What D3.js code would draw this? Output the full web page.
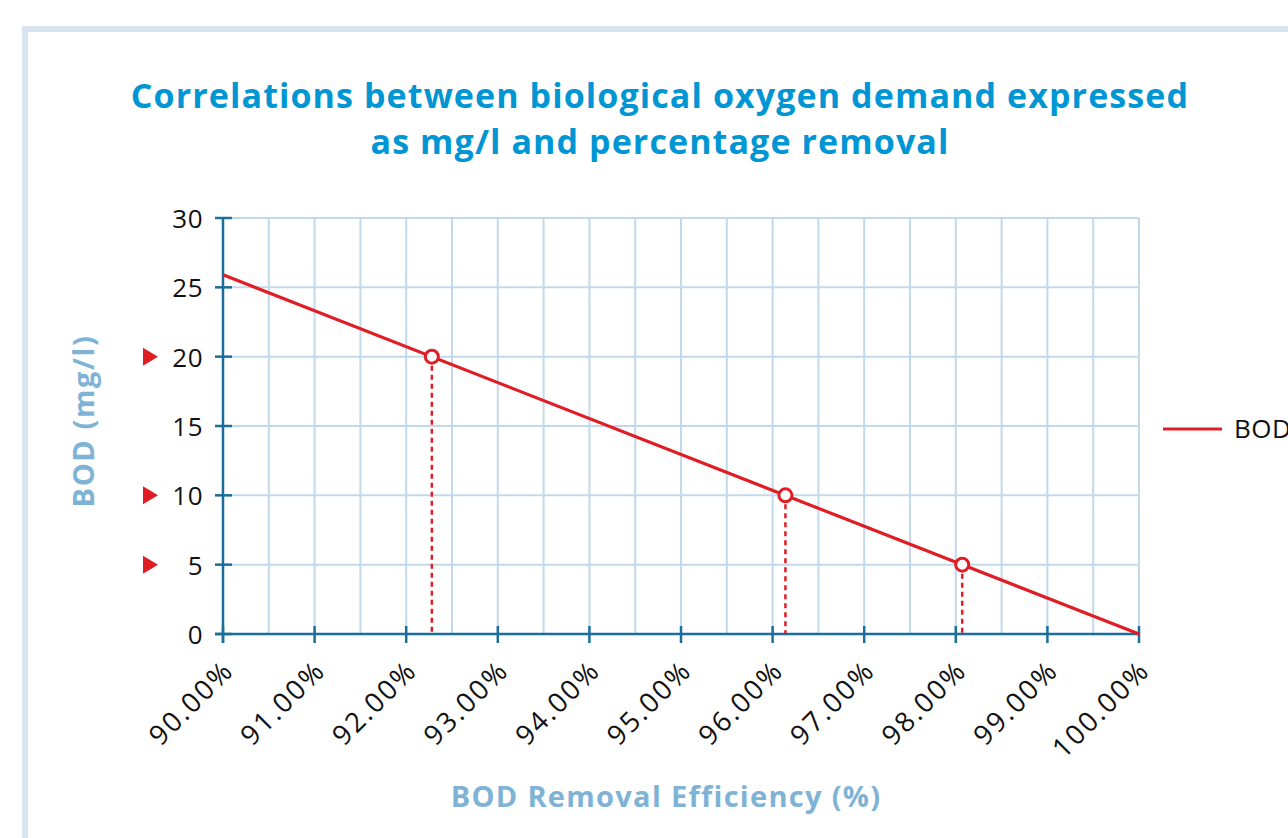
<!DOCTYPE html>
<html><head><meta charset="utf-8">
<script src="https://cdn.jsdelivr.net/npm/d3@7"></script>
<style>
body{margin:0;background:#fff;overflow:hidden;}
svg{display:block;}
</style></head>
<body>
<svg id="c" width="1288" height="838"></svg>
<script>
// ---- data ----
const titleLines = ["Correlations between biological oxygen demand expressed", "as mg/l and percentage removal"];
const xLabel = "BOD Removal Efficiency (%)";
const yLabel = "BOD (mg/l)";
const seriesName = "BOD";
const efficiency = [90, 100];          // % removal (line ends)
const bodValues = [25.9, 0];           // mg/l
const markEff = [92.28, 96.14, 98.07]; // highlighted points
const markBod = [20, 10, 5];
const xTicks = [90, 91, 92, 93, 94, 95, 96, 97, 98, 99, 100];
const xGrid = [90.5, 91, 91.5, 92, 92.5, 93, 93.5, 94, 94.5, 95, 95.5, 96, 96.5, 97, 97.5, 98, 98.5, 99, 99.5, 100];
const yTicks = [0, 5, 10, 15, 20, 25, 30];

const svg = d3.select("#c");
const red = "#e01d25", axisCol = "#1a6e9b", gridCol = "#c2d9eb";
const tickFont = "'Open Sans', sans-serif";
const boldFont = "'Open Sans', sans-serif";

// frame
svg.append("rect").attr("x", 25).attr("y", 29).attr("width", 1300).attr("height", 900)
  .attr("fill", "none").attr("stroke", "#d8e5f0").attr("stroke-width", 6);

// title
svg.append("g").selectAll("text").data(titleLines).join("text")
  .attr("x", 660).attr("y", (d, i) => 108 + i * 46)
  .attr("text-anchor", "middle").attr("fill", "#0096d4")
  .attr("font-family", boldFont).attr("font-weight", 700).attr("font-size", 34)
  .attr("letter-spacing", 1.1)
  .text(d => d);

const x = d3.scaleLinear().domain([90, 100]).range([223, 1139]);
const y = d3.scaleLinear().domain([0, 30]).range([634, 218]);

// grid
const g = svg.append("g");
g.selectAll(".vg").data(xGrid).join("line")
  .attr("x1", d => x(d)).attr("x2", d => x(d)).attr("y1", y(30)).attr("y2", y(0))
  .attr("stroke", gridCol).attr("stroke-width", 2);
g.selectAll(".hg").data(yTicks.filter(d => d > 0)).join("line")
  .attr("x1", x(90)).attr("x2", x(100)).attr("y1", d => y(d)).attr("y2", d => y(d))
  .attr("stroke", gridCol).attr("stroke-width", 2);

// axes
const yAxis = svg.append("g").attr("transform", `translate(${x(90)},0)`)
  .call(d3.axisLeft(y).tickValues(yTicks).tickSize(0).tickPadding(20));
yAxis.select(".domain").remove();
yAxis.selectAll("text").attr("font-family", tickFont).attr("font-size", 26)
  .attr("fill", "#111").attr("letter-spacing", 0.5).attr("dy", "0.36em");

const xAxis = svg.append("g").attr("transform", `translate(0,${y(0)})`)
  .call(d3.axisBottom(x).tickValues(xTicks).tickSize(0).tickFormat(d => d.toFixed(2) + "%"));
xAxis.select(".domain").remove();
xAxis.selectAll("text").attr("font-family", tickFont).attr("font-size", 27.5)
  .attr("fill", "#111").attr("letter-spacing", 2.2)
  .attr("text-anchor", "end").attr("dy", 0).attr("y", 0)
  .attr("transform", "translate(12,38) rotate(-45)");

// axis lines & crossing ticks
svg.append("line").attr("x1", x(90)).attr("x2", x(90)).attr("y1", y(30)).attr("y2", y(0) + 9)
  .attr("stroke", axisCol).attr("stroke-width", 2.5);
svg.append("line").attr("x1", x(90) - 8).attr("x2", x(100)).attr("y1", y(0)).attr("y2", y(0))
  .attr("stroke", axisCol).attr("stroke-width", 2.5);
svg.append("g").selectAll("line").data(yTicks).join("line")
  .attr("x1", x(90) - 8).attr("x2", x(90) + 9).attr("y1", d => y(d)).attr("y2", d => y(d))
  .attr("stroke", axisCol).attr("stroke-width", 2.5);
svg.append("g").selectAll("line").data(xTicks).join("line")
  .attr("x1", d => x(d)).attr("x2", d => x(d)).attr("y1", y(0) - 8).attr("y2", y(0) + 9)
  .attr("stroke", axisCol).attr("stroke-width", 2.5);

// dashed drop lines
const marks = markEff.map((e, i) => ({e, b: markBod[i]}));
svg.append("g").selectAll("line").data(marks).join("line")
  .attr("x1", d => x(d.e)).attr("x2", d => x(d.e)).attr("y1", d => y(d.b)).attr("y2", y(0))
  .attr("stroke", red).attr("stroke-width", 2.5).attr("stroke-dasharray", "5,4");

// main line
const lineData = efficiency.map((e, i) => ({e, b: bodValues[i]}));
svg.append("path").datum(lineData)
  .attr("d", d3.line().x(d => x(d.e)).y(d => y(d.b)))
  .attr("fill", "none").attr("stroke", red).attr("stroke-width", 3.2);

// markers
svg.append("g").selectAll("circle").data(marks).join("circle")
  .attr("cx", d => x(d.e)).attr("cy", d => y(d.b)).attr("r", 6.5)
  .attr("fill", "#fff").attr("stroke", red).attr("stroke-width", 3);

// red triangles on y axis
svg.append("g").selectAll("path").data(markBod).join("path")
  .attr("d", d => `M143,${y(d) - 9} L158,${y(d)} L143,${y(d) + 9} Z`)
  .attr("fill", red);

// axis titles
svg.append("text").attr("transform", `translate(94,421) rotate(-90)`)
  .attr("text-anchor", "middle").attr("fill", "#7fb3d6")
  .attr("font-family", boldFont).attr("font-weight", 700).attr("font-size", 29)
  .attr("letter-spacing", 1.6).text(yLabel);
svg.append("text").attr("x", 666).attr("y", 807)
  .attr("text-anchor", "middle").attr("fill", "#7fb3d6")
  .attr("font-family", boldFont).attr("font-weight", 700).attr("font-size", 29)
  .attr("letter-spacing", 1.3).text(xLabel);

// legend
svg.append("line").attr("x1", 1163).attr("x2", 1222).attr("y1", 429).attr("y2", 429)
  .attr("stroke", red).attr("stroke-width", 3.2);
svg.append("text").attr("x", 1234).attr("y", 438).attr("font-family", tickFont)
  .attr("font-size", 26).attr("fill", "#111").attr("letter-spacing", 0.5).text(seriesName);
</script>
</body></html>
